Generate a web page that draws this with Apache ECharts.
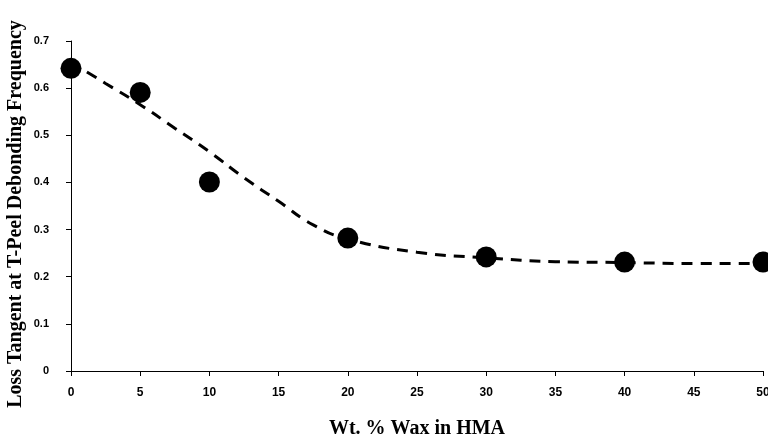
<!DOCTYPE html>
<html>
<head>
<meta charset="utf-8">
<script src="https://cdn.jsdelivr.net/npm/echarts@6/dist/echarts.min.js"></script>
<style>
  html, body { margin: 0; padding: 0; background: #fff; }
  #chart { width: 768px; height: 436px; }
</style>
</head>
<body>
<div id="chart"></div>
<script>
// measured points
const waxPct = [0, 5, 10, 20, 30, 40, 50];
const lossTangent = [0.642, 0.591, 0.401, 0.282, 0.242, 0.231, 0.231];

// dashed trend curve
const fitX = [0, 2.5, 5, 7.5, 10, 12.5, 15, 17.5, 20, 25, 30, 35, 40, 45, 50];
const fitY = [0.655, 0.61, 0.565, 0.515, 0.465, 0.41, 0.36, 0.31, 0.28, 0.252, 0.24, 0.232, 0.23, 0.228, 0.228];

const xTicks = [0, 5, 10, 15, 20, 25, 30, 35, 40, 45, 50];
const yTicks = [0, 0.1, 0.2, 0.3, 0.4, 0.5, 0.6, 0.7];
const yTitle = 'Loss Tangent at T-Peel Debonding Frequency';

const chart = echarts.init(document.getElementById('chart'));

const tickFont = {
  color: '#000',
  fontFamily: 'Liberation Sans',
  fontWeight: 'bold'
};

chart.setOption({
  backgroundColor: '#fff',
  animation: false,
  grid: { left: 71, right: 5, top: 41, bottom: 65, outerBoundsMode: 'none', containLabel: false },
  // y title placed by hand so it can sit a little lower than the axis centre
  graphic: [{
    type: 'text',
    x: 16,
    y: 214,
    rotation: Math.PI / 2,
    style: {
      text: yTitle,
      fill: '#000',
      font: 'bold 20px "Liberation Serif"',
      align: 'center',
      verticalAlign: 'middle'
    }
  }],
  xAxis: {
    type: 'value',
    min: xTicks[0],
    max: xTicks[xTicks.length - 1],
    interval: 5,
    name: 'Wt. % Wax in HMA',
    nameLocation: 'middle',
    nameGap: 48,
    nameTextStyle: {
      color: '#000',
      fontFamily: 'Liberation Serif',
      fontWeight: 'bold',
      fontSize: 20
    },
    axisLine: { lineStyle: { color: '#000', width: 1 } },
    axisTick: { length: 5, lineStyle: { color: '#000' } },
    axisLabel: Object.assign({ margin: 16, fontSize: 12 }, tickFont),
    splitLine: { show: false }
  },
  yAxis: {
    type: 'value',
    min: yTicks[0],
    max: yTicks[yTicks.length - 1],
    interval: 0.1,
    axisLine: { show: true, lineStyle: { color: '#000', width: 1 } },
    axisTick: { show: true, length: 5, lineStyle: { color: '#000' } },
    axisLabel: Object.assign({ margin: 22, fontSize: 11 }, tickFont),
    splitLine: { show: false }
  },
  series: [
    {
      name: 'fit',
      type: 'line',
      data: fitX.map((x, i) => [x, fitY[i]]),
      smooth: true,
      showSymbol: false,
      lineStyle: { color: '#000', width: 3, type: [11, 8] },
      z: 2
    },
    {
      name: 'data',
      type: 'scatter',
      data: waxPct.map((x, i) => [x, lossTangent[i]]),
      symbol: 'circle',
      symbolSize: 21,
      itemStyle: { color: '#000', opacity: 1 },
      clip: false,
      z: 3
    }
  ]
});
</script>
</body>
</html>
